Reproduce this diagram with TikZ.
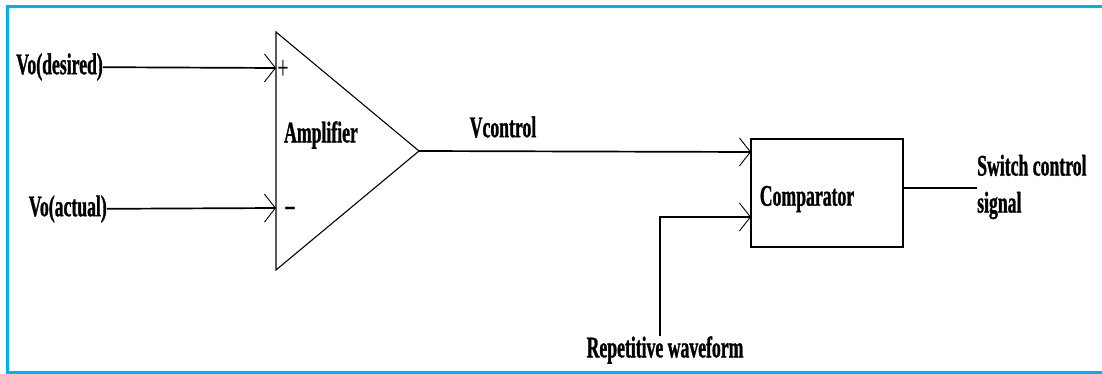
\documentclass[tikz,border=0pt]{standalone}
\usepackage{fontspec}
\setmainfont{Liberation Serif}[FakeStretch=0.59,BoldFeatures={FakeBold=1}]
\usetikzlibrary{arrows.meta}
\definecolor{frameblue}{HTML}{00B0F0}

\begin{document}
\begin{tikzpicture}[x=1pt,y=-1pt]
\useasboundingbox (0,0) rectangle (1102,374);
\draw[frameblue,line width=3pt] (1110,7) -- (7,7) -- (7,372) -- (1110,372);

% amplifier
\draw[line width=1.1pt,line join=miter] (276,32) -- (419,151) -- (276,270) -- cycle;
\coordinate (amp+) at (276,68);
\coordinate (amp-) at (276,208);
\coordinate (ampout) at (419,151);

\node[draw,line width=1.4pt,minimum width=152pt,minimum height=108pt,inner sep=0pt] (comp) at (827,193) {};
\coordinate (comp1) at (751,152);
\coordinate (comp2) at (751,217);
\coordinate (out) at (977,188);

\begin{scope}[every node/.style={font=\fontsize{30}{37}\selectfont\bfseries,inner sep=0pt}]
    \node[anchor=east] (vd) at (103,67) {Vo(desired)};
    \node[anchor=east] (va) at (107,209) {Vo(actual)};
    \node (amp) at (321,135) {Amplifier};
    \node (vc) at (503,127) {Vcontrol};
    \node (cmp) at (807,199) {Comparator};
    \node (rw) at (665,350) {Repetitive waveform};
    \node[anchor=west,align=left] (sw) at (977,187) {Switch control\\signal};
    \node (plus) at (283,70) {\fontsize{34}{34}\selectfont\mdseries +};
    \node (minus) at (290,211) {\fontsize{30}{30}\selectfont --};
\end{scope}

\begin{scope}[>={Straight Barb[length=11pt,width=28pt,line width=0.9pt]},
              every edge/.style={draw,line width=1.7pt}]
    \path [->] (vd) edge (amp+);
    \path [->] (va) edge (amp-);
    \path [->] (ampout) edge (comp1);
    \path [->] ([xshift=-5pt]rw.north) edge[to path={|- (\tikztotarget)}] (comp2);
    \path (comp.east |- out) edge (out);
\end{scope}
\end{tikzpicture}
\end{document}
